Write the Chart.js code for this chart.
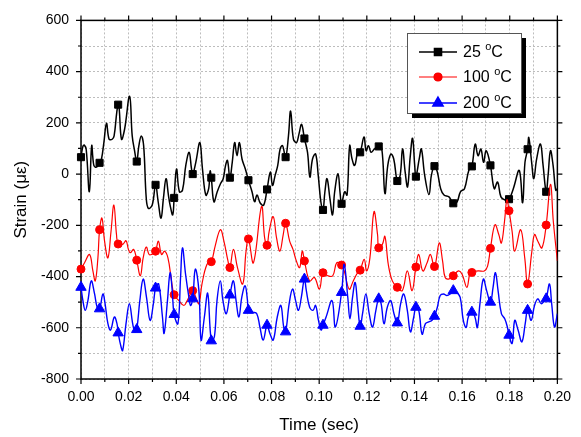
<!DOCTYPE html>
<html>
<head>
<meta charset="utf-8">
<script src="https://cdn.jsdelivr.net/npm/chart.js@4.4.1/dist/chart.umd.min.js"></script>
<style>
  body { margin: 0; background: #fff; }
  canvas { display: block; }
</style>
</head>
<body>
<canvas id="strainChart" width="581" height="437"></canvas>
<script>
// strain traces, [time (s), strain (µε)]
var black25 = [[0.0000,66],[0.0008,108],[0.0014,113],[0.0022,95],[0.0035,-69],[0.0045,111],[0.0054,34],[0.0065,27],[0.0078,44],[0.0086,59],[0.0096,123],[0.0107,198],[0.0118,136],[0.0131,136],[0.0139,149],[0.0150,240],[0.0156,271],[0.0160,260],[0.0170,136],[0.0183,175],[0.0204,304],[0.0215,149],[0.0225,91],[0.0234,49],[0.0243,111],[0.0253,149],[0.0263,111],[0.0274,-95],[0.0283,-134],[0.0299,-121],[0.0313,-42],[0.0324,-108],[0.0336,-172],[0.0346,-95],[0.0357,-18],[0.0367,-82],[0.0374,-121],[0.0385,-159],[0.0391,-93],[0.0401,20],[0.0413,-69],[0.0426,-63],[0.0440,34],[0.0454,85],[0.0464,20],[0.0469,0],[0.0482,46],[0.0499,123],[0.0510,20],[0.0524,-82],[0.0536,-57],[0.0542,12],[0.0547,-14],[0.0558,-108],[0.0572,-69],[0.0586,-37],[0.0597,-18],[0.0607,34],[0.0615,53],[0.0625,-14],[0.0635,46],[0.0645,123],[0.0655,72],[0.0665,123],[0.0676,59],[0.0690,20],[0.0703,-24],[0.0718,-69],[0.0729,-108],[0.0739,-82],[0.0753,-114],[0.0767,-121],[0.0781,-60],[0.0795,8],[0.0804,-44],[0.0815,-5],[0.0826,34],[0.0836,98],[0.0846,111],[0.0859,66],[0.0871,149],[0.0880,246],[0.0892,136],[0.0905,123],[0.0915,156],[0.0926,194],[0.0938,139],[0.0951,85],[0.0961,-12],[0.0972,59],[0.0985,78],[0.0996,-5],[0.1007,-108],[0.1016,-140],[0.1024,-69],[0.1033,-18],[0.1045,-95],[0.1056,-159],[0.1065,-69],[0.1079,1],[0.1088,-76],[0.1094,-116],[0.1107,-69],[0.1117,-82],[0.1128,111],[0.1138,59],[0.1149,34],[0.1163,91],[0.1172,85],[0.1188,145],[0.1197,91],[0.1207,111],[0.1218,85],[0.1232,98],[0.1250,108],[0.1263,98],[0.1276,-76],[0.1288,34],[0.1301,78],[0.1313,59],[0.1328,-27],[0.1340,-5],[0.1350,98],[0.1361,8],[0.1371,-50],[0.1382,66],[0.1392,140],[0.1401,34],[0.1406,-10],[0.1420,59],[0.1429,98],[0.1443,-5],[0.1461,-80],[0.1471,-5],[0.1484,31],[0.1496,8],[0.1510,-57],[0.1524,-82],[0.1545,-89],[0.1563,-114],[0.1579,-108],[0.1593,-69],[0.1610,-57],[0.1628,14],[0.1641,30],[0.1655,117],[0.1667,72],[0.1679,98],[0.1690,46],[0.1701,91],[0.1719,34],[0.1735,-57],[0.1749,-31],[0.1763,-89],[0.1780,-101],[0.1797,-98],[0.1815,-57],[0.1840,14],[0.1854,-112],[0.1864,46],[0.1875,97],[0.1880,143],[0.1892,46],[0.1901,-18],[0.1913,59],[0.1929,117],[0.1940,34],[0.1953,-69],[0.1961,-5],[0.1971,91],[0.1982,34],[0.1993,-63],[0.2000,-57]];

var red100 = [[0.0000,-371],[0.0015,-346],[0.0036,-314],[0.0050,-378],[0.0060,-417],[0.0071,-327],[0.0078,-217],[0.0088,-172],[0.0099,-262],[0.0113,-327],[0.0126,-224],[0.0138,-121],[0.0149,-236],[0.0156,-273],[0.0175,-275],[0.0189,-260],[0.0199,-294],[0.0207,-307],[0.0221,-294],[0.0234,-336],[0.0249,-397],[0.0261,-327],[0.0274,-285],[0.0286,-314],[0.0296,-314],[0.0304,-307],[0.0313,-301],[0.0325,-262],[0.0338,-314],[0.0351,-301],[0.0365,-327],[0.0379,-410],[0.0391,-471],[0.0411,-494],[0.0432,-513],[0.0446,-494],[0.0469,-455],[0.0482,-481],[0.0495,-506],[0.0508,-429],[0.0529,-352],[0.0547,-342],[0.0563,-282],[0.0585,-217],[0.0600,-262],[0.0617,-339],[0.0625,-365],[0.0640,-294],[0.0657,-365],[0.0679,-429],[0.0693,-301],[0.0703,-253],[0.0724,-346],[0.0758,-127],[0.0771,-249],[0.0781,-278],[0.0790,-224],[0.0807,-166],[0.0821,-249],[0.0835,-301],[0.0849,-236],[0.0859,-192],[0.0876,-262],[0.0890,-294],[0.0904,-339],[0.0918,-365],[0.0929,-301],[0.0938,-339],[0.0960,-417],[0.0980,-404],[0.1001,-449],[0.1016,-385],[0.1036,-397],[0.1057,-397],[0.1074,-346],[0.1094,-355],[0.1105,-378],[0.1126,-449],[0.1143,-417],[0.1161,-385],[0.1172,-375],[0.1189,-333],[0.1199,-378],[0.1213,-327],[0.1230,-147],[0.1245,-236],[0.1250,-288],[0.1265,-275],[0.1276,-243],[0.1290,-352],[0.1307,-417],[0.1328,-442],[0.1349,-455],[0.1370,-378],[0.1390,-455],[0.1406,-363],[0.1418,-314],[0.1435,-378],[0.1453,-346],[0.1467,-314],[0.1484,-363],[0.1504,-269],[0.1518,-339],[0.1529,-404],[0.1546,-409],[0.1563,-397],[0.1585,-378],[0.1600,-391],[0.1620,-442],[0.1633,-385],[0.1641,-383],[0.1668,-378],[0.1693,-378],[0.1707,-359],[0.1719,-290],[0.1738,-198],[0.1754,-236],[0.1765,-269],[0.1778,-185],[0.1788,-100],[0.1797,-143],[0.1810,-224],[0.1821,-301],[0.1846,-217],[0.1863,-327],[0.1875,-429],[0.1893,-301],[0.1904,-236],[0.1918,-262],[0.1935,-288],[0.1953,-199],[0.1971,-40],[0.1983,-185],[0.2000,-339]];

var blue200 = [[0.0000,-442],[0.0008,-494],[0.0018,-532],[0.0029,-494],[0.0043,-417],[0.0057,-468],[0.0068,-520],[0.0078,-526],[0.0092,-468],[0.0101,-506],[0.0113,-584],[0.0124,-609],[0.0140,-558],[0.0151,-584],[0.0156,-620],[0.0168,-674],[0.0175,-689],[0.0189,-584],[0.0203,-506],[0.0217,-584],[0.0226,-616],[0.0234,-607],[0.0247,-494],[0.0261,-410],[0.0275,-481],[0.0290,-571],[0.0304,-506],[0.0313,-445],[0.0326,-429],[0.0342,-558],[0.0349,-622],[0.0363,-494],[0.0374,-385],[0.0383,-455],[0.0391,-548],[0.0407,-584],[0.0418,-404],[0.0426,-288],[0.0439,-391],[0.0453,-481],[0.0460,-513],[0.0469,-487],[0.0480,-371],[0.0495,-455],[0.0504,-648],[0.0518,-558],[0.0532,-466],[0.0547,-651],[0.0560,-635],[0.0571,-494],[0.0585,-417],[0.0596,-494],[0.0610,-545],[0.0625,-472],[0.0640,-417],[0.0651,-494],[0.0663,-558],[0.0675,-481],[0.0689,-436],[0.0699,-494],[0.0703,-532],[0.0721,-539],[0.0738,-545],[0.0751,-597],[0.0765,-648],[0.0781,-590],[0.0793,-622],[0.0807,-648],[0.0824,-558],[0.0839,-513],[0.0851,-597],[0.0859,-616],[0.0874,-506],[0.0888,-449],[0.0901,-494],[0.0913,-532],[0.0925,-481],[0.0938,-410],[0.0946,-455],[0.0960,-520],[0.0974,-532],[0.0985,-513],[0.0997,-571],[0.1008,-609],[0.1016,-590],[0.1029,-558],[0.1054,-494],[0.1068,-597],[0.1094,-462],[0.1105,-352],[0.1120,-481],[0.1129,-565],[0.1140,-481],[0.1151,-423],[0.1161,-506],[0.1172,-594],[0.1182,-545],[0.1196,-468],[0.1210,-545],[0.1224,-597],[0.1238,-532],[0.1250,-487],[0.1260,-506],[0.1272,-584],[0.1286,-520],[0.1300,-494],[0.1314,-545],[0.1328,-581],[0.1342,-506],[0.1355,-468],[0.1370,-532],[0.1383,-616],[0.1397,-558],[0.1406,-520],[0.1418,-532],[0.1432,-625],[0.1446,-584],[0.1460,-577],[0.1474,-571],[0.1484,-555],[0.1496,-520],[0.1508,-474],[0.1522,-468],[0.1536,-474],[0.1550,-468],[0.1563,-455],[0.1578,-462],[0.1592,-481],[0.1605,-571],[0.1617,-599],[0.1626,-558],[0.1641,-539],[0.1654,-558],[0.1664,-599],[0.1675,-506],[0.1689,-410],[0.1703,-455],[0.1719,-500],[0.1730,-442],[0.1740,-385],[0.1751,-455],[0.1765,-545],[0.1779,-565],[0.1790,-597],[0.1797,-629],[0.1810,-661],[0.1821,-571],[0.1835,-609],[0.1851,-655],[0.1865,-584],[0.1875,-532],[0.1890,-571],[0.1904,-513],[0.1918,-487],[0.1932,-506],[0.1946,-494],[0.1953,-487],[0.1967,-429],[0.1976,-506],[0.1988,-597],[0.2000,-545]];

// symbols are drawn every 10th sample
var markerTime = [0.0000,0.0078,0.0156,0.0234,0.0313,0.0391,0.0469,0.0547,0.0625,0.0703,0.0781,0.0859,0.0938,0.1016,0.1094,0.1172,0.1250,0.1328,0.1406,0.1484,0.1563,0.1641,0.1719,0.1797,0.1875,0.1953];
var blackMarks = [66,44,271,49,-42,-93,0,-14,-14,-24,-60,66,139,-140,-116,85,108,-27,-10,31,-114,30,34,-98,97,-69];
var redMarks = [-371,-217,-273,-336,-301,-471,-455,-342,-365,-253,-278,-192,-339,-385,-355,-375,-288,-442,-363,-361,-397,-384,-290,-143,-429,-199];
var blueMarks = [-442,-526,-620,-607,-445,-548,-487,-651,-472,-532,-590,-616,-410,-590,-462,-594,-487,-581,-520,-555,-455,-539,-500,-629,-532,-487];

var seriesNames = ['25 °C', '100 °C', '200 °C'];
var seriesColors = ['#000000', '#ff0000', '#0000ff'];
var seriesSymbols = ['rect', 'circle', 'triangle'];
var symbolRadius = [5, 4, 6];
var lineWidths = [1.5, 1.2, 1.4];

var xTicks = ['0.00','0.02','0.04','0.06','0.08','0.10','0.12','0.14','0.16','0.18','0.20'];
var yTicks = [600, 400, 200, 0, -200, -400, -600, -800];

var FONT = "'Liberation Sans', Arial, sans-serif";

function toPoints(pairs) {
  return pairs.map(function (p) { return { x: p[0], y: p[1] }; });
}
function markPoints(vals) {
  return markerTime.map(function (t, i) { return { x: t, y: vals[i] }; });
}

function lineSet(i, pairs) {
  return {
    label: seriesNames[i],
    data: toPoints(pairs),
    borderColor: seriesColors[i],
    borderWidth: lineWidths[i],
    pointRadius: 0,
    tension: 0.4,
    fill: false
  };
}
function markSet(i, vals) {
  return {
    label: seriesNames[i] + ' symbols',
    data: markPoints(vals),
    showLine: false,
    pointStyle: seriesSymbols[i],
    pointRadius: symbolRadius[i],
    pointBackgroundColor: seriesColors[i],
    pointBorderColor: seriesColors[i],
    pointBorderWidth: 1,
    clip: false
  };
}

// frame with outward ticks on all four sides (Origin style)
var framePlugin = {
  id: 'frame',
  beforeDatasetsDraw: function (chart) {
    var ctx = chart.ctx, a = chart.chartArea;
    var xs = chart.scales.x, ys = chart.scales.y;
    ctx.save();
    ctx.strokeStyle = '#000';
    ctx.lineWidth = 1.5;
    ctx.strokeRect(a.left, a.top, a.right - a.left, a.bottom - a.top);
    ctx.lineWidth = 1.2;
    ctx.beginPath();
    for (var k = 0; k <= 20; k++) {
      var px = xs.getPixelForValue(k / 100);
      var len = k % 2 === 0 ? 5 : 3;
      ctx.moveTo(px, a.bottom); ctx.lineTo(px, a.bottom + len);
      ctx.moveTo(px, a.top); ctx.lineTo(px, a.top - len);
    }
    for (var v = -800; v <= 600; v += 100) {
      var py = ys.getPixelForValue(v);
      var l2 = v % 200 === 0 ? 5 : 3;
      ctx.moveTo(a.left, py); ctx.lineTo(a.left - l2, py);
      ctx.moveTo(a.right, py); ctx.lineTo(a.right + l2, py);
    }
    ctx.stroke();
    ctx.restore();
  }
};

// boxed legend with drop shadow, line + symbol, superscript degree
var legendPlugin = {
  id: 'boxLegend',
  afterDraw: function (chart) {
    var ctx = chart.ctx;
    var bx = 407, by = 33, bw = 114, bh = 80;
    ctx.save();
    ctx.fillStyle = '#000';
    ctx.fillRect(bx + 5, by + 5, bw, bh);
    ctx.fillStyle = '#fff';
    ctx.fillRect(bx, by, bw, bh);
    ctx.strokeStyle = '#555';
    ctx.lineWidth = 1;
    ctx.strokeRect(bx + 0.5, by + 0.5, bw, bh);

    var rows = [52, 77, 103];
    for (var i = 0; i < 3; i++) {
      var y = rows[i];
      ctx.strokeStyle = seriesColors[i];
      ctx.lineWidth = lineWidths[i];
      ctx.beginPath();
      ctx.moveTo(419, y); ctx.lineTo(457, y);
      ctx.stroke();
      Chart.helpers.drawPoint(ctx, {
        pointStyle: seriesSymbols[i], radius: symbolRadius[i], rotation: 0, borderWidth: 1
      }, 438, y);
      ctx.fillStyle = seriesColors[i];
      ctx.fill();

      var parts = seriesNames[i].split('°');
      ctx.fillStyle = '#000';
      ctx.textBaseline = 'middle';
      ctx.font = '16px ' + FONT;
      var tx = 463;
      ctx.fillText(parts[0], tx, y + 1);
      tx += ctx.measureText(parts[0]).width;
      ctx.font = '11px ' + FONT;
      ctx.fillText('o', tx, y - 5);
      tx += ctx.measureText('o').width;
      ctx.font = '16px ' + FONT;
      ctx.fillText(parts[1], tx, y + 1);
    }
    ctx.restore();
  }
};

var ctx = document.getElementById('strainChart').getContext('2d');
var chart = new Chart(ctx, {
  type: 'line',
  data: {
    datasets: [
      markSet(2, blueMarks), lineSet(2, blue200),
      markSet(1, redMarks), lineSet(1, red100),
      markSet(0, blackMarks), lineSet(0, black25)
    ]
  },
  options: {
    responsive: false,
    animation: false,
    events: [],
    layout: { padding: { top: 16, right: 20, left: 0, bottom: 0 } },
    plugins: { legend: { display: false }, tooltip: { enabled: false } },
    scales: {
      x: {
        type: 'linear',
        min: 0, max: 0.2,
        afterBuildTicks: function (s) {
          var t = [];
          for (var k = 0; k <= 20; k++) t.push({ value: k / 100 });
          s.ticks = t;
        },
        afterFit: function (s) { s.height = 58; },
        ticks: {
          autoSkip: false, maxRotation: 0, padding: 10,
          color: '#000', font: { family: FONT, size: 14 },
          callback: function (v) {
            var k = Math.round(v * 100);
            return k % 2 === 0 ? xTicks[k / 2] : '';
          }
        },
        grid: { color: '#bdbdbd', lineWidth: 1, drawTicks: false },
        border: { display: false, dash: [2, 2] },
        title: {
          display: true, text: 'Time (sec)', color: '#000',
          font: { family: FONT, size: 17 }, padding: { top: 0, bottom: 1 }
        }
      },
      y: {
        min: -800, max: 600,
        afterBuildTicks: function (s) {
          var t = [];
          for (var v = -800; v <= 600; v += 100) t.push({ value: v });
          s.ticks = t;
        },
        afterFit: function (s) { s.width = 81; },
        ticks: {
          autoSkip: false, padding: 12,
          color: '#000', font: { family: FONT, size: 14 },
          callback: function (v) {
            return yTicks.indexOf(v) >= 0 ? String(v) : '';
          }
        },
        grid: { color: '#bdbdbd', lineWidth: 1, drawTicks: false },
        border: { display: false, dash: [2, 2] },
        title: {
          display: true, text: 'Strain (με)', color: '#000',
          font: { family: FONT, size: 17 }, padding: { top: 11, bottom: 0 }
        }
      }
    }
  },
  plugins: [framePlugin, legendPlugin]
});
</script>
</body>
</html>
